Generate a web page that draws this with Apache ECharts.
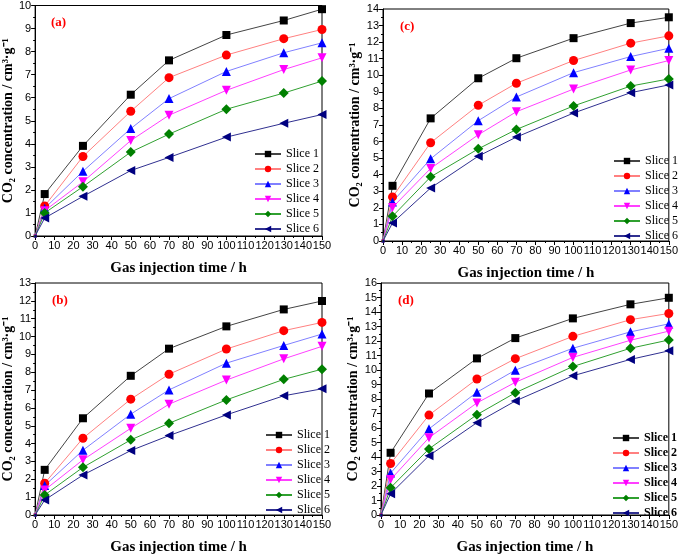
<!DOCTYPE html>
<html>
<head>
<meta charset="utf-8">
<script src="https://cdn.jsdelivr.net/npm/echarts@6/dist/echarts.min.js"></script>
<style>
html, body { margin: 0; padding: 0; background: #fff; }
#chart { width: 681px; height: 556px; }
</style>
</head>
<body>
<div id="chart"></div>
<script>
// 注气时间 (h)
const times = [0, 5, 25, 50, 70, 100, 130, 150]
const sliceNames = ['Slice 1', 'Slice 2', 'Slice 3', 'Slice 4', 'Slice 5', 'Slice 6']

// (a) 各切片CO2浓度
const panelA = [
    [0, 1.82, 3.91, 6.13, 7.62, 8.72, 9.35, 9.84],
    [0, 1.30, 3.45, 5.41, 6.87, 7.85, 8.56, 8.96],
    [0, 1.20, 2.81, 4.66, 5.96, 7.14, 7.95, 8.38],
    [0, 1.10, 2.35, 4.14, 5.24, 6.32, 7.22, 7.73],
    [0, 1.00, 2.14, 3.64, 4.42, 5.50, 6.20, 6.72],
    [0, 0.78, 1.72, 2.84, 3.41, 4.29, 4.89, 5.27]
]
// (b)
const panelB = [
    [0, 2.53, 5.42, 7.80, 9.32, 10.57, 11.52, 11.99],
    [0, 1.78, 4.30, 6.49, 7.89, 9.30, 10.33, 10.79],
    [0, 1.65, 3.63, 5.65, 7.01, 8.51, 9.50, 10.14],
    [0, 1.40, 3.09, 4.86, 6.21, 7.56, 8.75, 9.45],
    [0, 1.12, 2.67, 4.21, 5.14, 6.45, 7.60, 8.17],
    [0, 0.84, 2.24, 3.61, 4.45, 5.61, 6.68, 7.07]
]
// (c)
const panelC = [
    [0, 3.33, 7.40, 9.82, 11.03, 12.24, 13.15, 13.50],
    [0, 2.66, 5.93, 8.19, 9.52, 10.89, 11.94, 12.38],
    [0, 2.36, 4.96, 7.26, 8.69, 10.16, 11.13, 11.63],
    [0, 2.02, 4.38, 6.41, 7.80, 9.17, 10.32, 10.89],
    [0, 1.49, 3.87, 5.56, 6.73, 8.15, 9.35, 9.78],
    [0, 1.09, 3.20, 5.12, 6.27, 7.72, 8.95, 9.42]
]
// (d)
const panelD = [
    [0, 4.29, 8.38, 10.80, 12.20, 13.56, 14.53, 14.98],
    [0, 3.55, 6.89, 9.38, 10.78, 12.32, 13.47, 13.90],
    [0, 2.89, 5.94, 8.47, 9.99, 11.50, 12.63, 13.18],
    [0, 2.44, 5.33, 7.73, 9.15, 10.87, 12.05, 12.68],
    [0, 1.88, 4.56, 6.92, 8.43, 10.24, 11.50, 12.07],
    [0, 1.47, 4.09, 6.37, 7.86, 9.60, 10.73, 11.32]
]
const yMax = [10, 13, 14, 16] // a, b, c, d

const lineColor = ['#444444', '#ff8080', '#8080ff', '#ff40ff', '#30a030', '#303090']
const markColor = ['#000000', '#ff0000', '#0000ff', '#ff00ff', '#008000', '#000080']
const symbols = ['rect', 'circle', 'triangle', 'triangle', 'diamond', 'triangle']
const symRotate = [0, 0, 0, 180, 0, 90]
const symSize = [8, 9, 9, 9, 10, 9]

const serif = 'Liberation Serif'
const sans = 'Liberation Sans'

// 四个子图的位置
const panels = [
    {data: panelA, label: '(a)', max: yMax[0], grid: {left: 34, right: 359, top: 5, bottom: 320}, legend: {left: 249, top: 143}, bold: false},
    {data: panelC, label: '(c)', max: yMax[2], grid: {left: 383, right: 10, top: 9, bottom: 315}, legend: {left: 608, top: 150}, bold: false},
    {data: panelB, label: '(b)', max: yMax[1], grid: {left: 35, right: 359, top: 283, bottom: 41}, legend: {left: 260, top: 424}, bold: false},
    {data: panelD, label: '(d)', max: yMax[3], grid: {left: 381, right: 8, top: 283, bottom: 37}, legend: {left: 607, top: 427}, bold: true}
]

const chart = echarts.init(document.getElementById('chart'), null, {renderer: 'canvas'})

let grids = [], xAxes = [], yAxes = [], series = [], legends = [], titles = []
panels.forEach((p, k) => {
    grids.push(Object.assign({show: true, borderColor: '#000', borderWidth: 1, backgroundColor: 'transparent'}, p.grid))
    xAxes.push({
        type: 'value', gridIndex: k, min: 0, max: 150, interval: 10,
        name: 'Gas injection time / h', nameLocation: 'middle', nameGap: 25,
        nameTextStyle: {fontFamily: serif, fontWeight: 'bold', fontSize: 15, color: '#000'},
        axisLine: {show: true, lineStyle: {color: '#000', width: 1}},
        axisTick: {show: true, inside: false, length: 4, lineStyle: {color: '#000'}},
        minorTick: {show: true, splitNumber: 2, length: 2, lineStyle: {color: '#000'}},
        splitLine: {show: false},
        axisLabel: {fontFamily: sans, fontSize: 11, color: '#000', margin: 4, showMinLabel: true, showMaxLabel: true}
    })
    yAxes.push({
        type: 'value', gridIndex: k, min: 0, max: p.max, interval: 1,
        name: 'CO\u2082 concentration / cm\u00b3\u00b7g\u207b\u00b9', nameLocation: 'middle', nameRotate: 90, nameGap: 20,
        nameTextStyle: {fontFamily: serif, fontWeight: 'bold', fontSize: 14, color: '#000'},
        axisLine: {show: true, lineStyle: {color: '#000', width: 1}},
        axisTick: {show: true, inside: false, length: 4, lineStyle: {color: '#000'}},
        minorTick: {show: true, splitNumber: 2, length: 2, lineStyle: {color: '#000'}},
        splitLine: {show: false},
        axisLabel: {fontFamily: sans, fontSize: 11, color: '#000', margin: 4}
    })
    titles.push({
        text: p.label, left: p.grid.left + 12, top: p.grid.top + 6,
        textStyle: {fontFamily: serif, fontWeight: 'bold', fontSize: 13, color: '#ff0000'}
    })
    p.data.forEach((vals, i) => {
        series.push({
            type: 'line', name: sliceNames[i], xAxisIndex: k, yAxisIndex: k,
            data: times.map((t, j) => j === 0 ? {value: [t, vals[j]], symbolSize: 3} : [t, vals[j]]),
            symbol: symbols[i], symbolRotate: symRotate[i], symbolSize: symSize[i],
            showAllSymbol: true,
            lineStyle: {color: lineColor[i], width: 1},
            itemStyle: {color: markColor[i]},
            emphasis: {disabled: true},
            animation: false
        })
    })
    legends.push({
        left: p.legend.left, top: p.legend.top, orient: 'vertical',
        data: sliceNames, itemWidth: 26, itemHeight: 8, itemGap: 3,
        textStyle: {fontFamily: serif, fontSize: 12, lineHeight: 10, color: '#000', fontWeight: p.bold ? 'bold' : 'normal'},
        selectedMode: false
    })
})

chart.setOption({
    backgroundColor: '#fff',
    animation: false,
    title: titles,
    grid: grids,
    xAxis: xAxes,
    yAxis: yAxes,
    legend: legends,
    series: series
})
</script>
</body>
</html>
